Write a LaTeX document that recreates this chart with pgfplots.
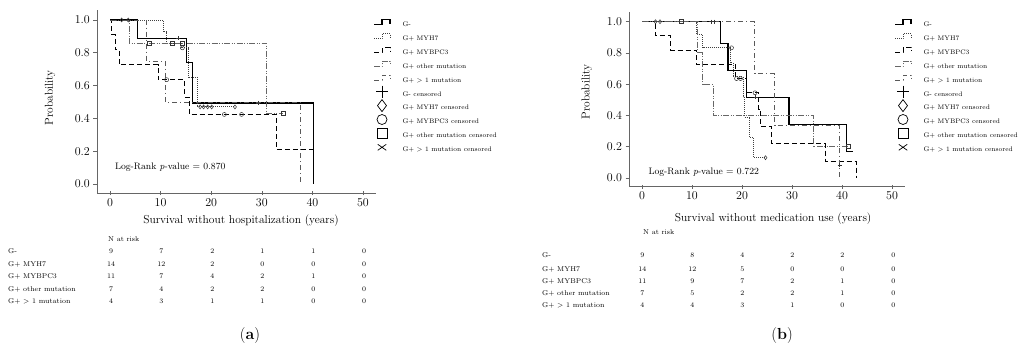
\documentclass[border=0pt]{standalone}
\usepackage{fontspec}
\usepackage{pgfplots}
\pgfplotsset{compat=1.18}
\definecolor{axgray}{gray}{0.4}
\pgfplotsset{
 kmaxis/.style={scale only axis, xmin=-2.5, xmax=52.5, ymin=-0.055, ymax=1.06,
   axis x line*=bottom, axis y line*=left,
   axis line style={axgray, line width=0.6pt, -},
   xtick={0,10,20,30,40,50}, ytick={0,0.2,0.4,0.6,0.8,1},
   major tick style={axgray, line width=0.6pt},
   xtick align=center, ytick align=outside, major tick length=4pt,
   yticklabel style={/pgf/number format/fixed,/pgf/number format/fixed zerofill,/pgf/number format/precision=1},
   ticklabel style={font=\fontsize{12}{14}\selectfont},
   label style={font=\fontsize{11.5}{14}\selectfont},
   legend style={draw=none, fill=none, inner sep=0pt, outer sep=0pt, row sep=-0.1pt, column sep=11.5pt,
     font=\fontsize{6.6}{8}\selectfont, nodes={inner sep=0pt, text depth=1pt}},
   legend cell align=left,
 },
 gneg/.style={black, line width=1.1pt},
 myh7/.style={black!75, line width=0.9pt, dash pattern=on 0.9pt off 1.1pt},
 mybpc3/.style={black, line width=0.9pt, dash pattern=on 5pt off 3pt},
 othm/.style={black!60, line width=0.9pt, dash pattern=on 6pt off 1.5pt on 1pt off 1.5pt on 1pt off 1.5pt},
 gtone/.style={black!65, line width=0.9pt, dash pattern=on 5pt off 3pt on 1pt off 3pt},
 cens/.style={only marks, black!80, mark size=2pt, mark options={solid, line width=0.5pt, fill=white}},
 kmline/.style={legend image code/.code={\path[draw=none,fill=none] (0pt,-4.5pt) rectangle (18pt,9.5pt);
   \draw[##1] (1pt,0pt) -- (9pt,0pt) -- (9pt,5pt) -- (17pt,5pt) -- (17pt,1pt);}},
 kmmark/.style={legend image code/.code={\path[draw=none,fill=none] (0pt,-4.5pt) rectangle (18pt,9.5pt);
   \draw[##1] plot coordinates {(9pt,2.5pt)};}},
}
\newcommand{\kmlegend}{%
 \addlegendimage{kmline, gneg}\addlegendentry{G-}
 \addlegendimage{kmline, myh7, line width=0.7pt}\addlegendentry{G+ MYH7}
 \addlegendimage{kmline, mybpc3, line width=0.7pt}\addlegendentry{G+ MYBPC3}
 \addlegendimage{kmline, othm, line width=0.7pt}\addlegendentry{G+ other mutation}
 \addlegendimage{kmline, gtone, line width=0.7pt}\addlegendentry{G+ > 1 mutation}
 \addlegendimage{kmmark, black, line width=0.7pt, mark=+, mark size=6pt}\addlegendentry{G- censored}
 \addlegendimage{kmmark, black, line width=0.7pt, mark=diamond, mark size=6pt}\addlegendentry{G+ MYH7 censored}
 \addlegendimage{kmmark, black, line width=0.7pt, mark=o, mark size=5pt}\addlegendentry{G+ MYBPC3 censored}
 \addlegendimage{kmmark, black, line width=0.7pt, mark=square, mark size=5pt}\addlegendentry{G+ other mutation censored}
 \addlegendimage{kmmark, black, line width=0.7pt, mark=x, mark size=6pt, mark options={yscale=0.7}}\addlegendentry{G+ > 1 mutation censored}
}
\begin{document}
\begin{tikzpicture}
\useasboundingbox (0,0) rectangle (1020pt,354pt);
% ---------------- panel (a) ----------------
\begin{axis}[kmaxis, at={(97.35pt,161pt)}, anchor=south west, width=278.3pt, height=182.86pt,
  xlabel={Survival without hospitalization (years)},
  xlabel style={at={(axis description cs:0.516,-0.153)}, anchor=center},
  ylabel={Probability},
  ylabel style={at={(axis description cs:-0.170,0.52)}, anchor=center},
  legend style={at={(axis description cs:0.9905,0.9723)}, anchor=north west}]
\addplot[gneg, forget plot] coordinates {(0,1)(5.4,1)(5.4,0.889)(15.2,0.889)(15.2,0.741)(16.3,0.741)(16.3,0.494)(40.3,0.494)(40.3,0)};
\addplot[myh7, forget plot] coordinates {(0,1)(10.5,1)(10.5,0.929)(11.2,0.929)(11.2,0.857)(14.1,0.857)(14.1,0.83)(15.6,0.83)(15.6,0.65)(17.2,0.65)(17.2,0.47)(24.7,0.47)};
\addplot[mybpc3, forget plot] coordinates {(0,1)(0.3,1)(0.3,0.909)(1.0,0.909)(1.0,0.818)(1.8,0.818)(1.8,0.727)(9.5,0.727)(9.5,0.636)(14.8,0.636)(14.8,0.53)(15.7,0.53)(15.7,0.424)(32.8,0.424)(32.8,0.212)(40.3,0.212)(40.3,0)};
\addplot[othm, forget plot] coordinates {(0,1)(3.8,1)(3.8,0.857)(31.0,0.857)(31.0,0.429)(34.2,0.429)};
\addplot[gtone, forget plot] coordinates {(0,1)(7.2,1)(7.2,0.75)(10.9,0.75)(10.9,0.5)(37.7,0.5)(37.7,0)};
\addplot[cens, mark=+, forget plot] coordinates {(13.5,0.889)(29.3,0.494)};
\addplot[cens, mark=diamond, forget plot] coordinates {(2.3,1)(3.6,1)(17.8,0.47)(18.5,0.47)(19.3,0.47)(20.1,0.47)(24.7,0.47)};
\addplot[cens, mark=o, forget plot] coordinates {(11.2,0.636)(14.3,0.83)(22.6,0.424)(26.0,0.424)};
\addplot[cens, mark=square, forget plot] coordinates {(7.8,0.857)(12.4,0.857)(14.3,0.857)(34.2,0.429)};
\node[anchor=west, font=\fontsize{9.4}{11}\selectfont] at (axis cs:0.3,0.1) {Log-Rank \textit{p}-value = 0.870};
\kmlegend
\end{axis}
% ---------------- panel (b) ----------------
\begin{axis}[kmaxis, at={(629.5pt,167.4pt)}, anchor=south west, width=275pt, height=174.3pt,
  xlabel={Survival without medication use (years)},
  xlabel style={at={(axis description cs:0.522,-0.186)}, anchor=center},
  ylabel={Probability},
  ylabel style={at={(axis description cs:-0.155,0.543)}, anchor=center},
  legend style={at={(axis description cs:0.9618,0.9834)}, anchor=north west}]
\addplot[gneg, forget plot] coordinates {(0,1)(15.7,1)(15.7,0.862)(17.2,0.862)(17.2,0.687)(20.9,0.687)(20.9,0.515)(29.4,0.515)(29.4,0.345)(40.9,0.345)(40.9,0.172)(42.2,0.172)};
\addplot[myh7, forget plot] coordinates {(0,1)(10.9,1)(10.9,0.917)(12.1,0.917)(12.1,0.833)(17.6,0.833)(17.6,0.74)(18.2,0.74)(18.2,0.65)(20.2,0.65)(20.2,0.52)(20.5,0.52)(20.5,0.39)(21.5,0.39)(21.5,0.26)(22.3,0.26)(22.3,0.13)(24.7,0.13)};
\addplot[mybpc3, forget plot] coordinates {(0,1)(2.7,1)(2.7,0.909)(5.7,0.909)(5.7,0.818)(10.9,0.818)(10.9,0.727)(18.7,0.727)(18.7,0.636)(20.9,0.636)(20.9,0.545)(23.3,0.545)(23.3,0.436)(23.7,0.436)(23.7,0.327)(25.9,0.327)(25.9,0.218)(36.6,0.218)(36.6,0.109)(42.8,0.109)(42.8,0)};
\addplot[othm, forget plot] coordinates {(0,1)(11.0,1)(11.0,0.8)(12.1,0.8)(12.1,0.6)(14.2,0.6)(14.2,0.4)(34.2,0.4)(34.2,0.2)(41.2,0.2)};
\addplot[gtone, forget plot] coordinates {(0,1)(22.5,1)(22.5,0.667)(26.5,0.667)(26.5,0.333)(39.5,0.333)(39.5,0)};
\addplot[cens, mark=+, forget plot] coordinates {(13.8,1)(14.4,1)(22.7,0.515)(39.5,0.08)};
\addplot[cens, mark=diamond, forget plot] coordinates {(2.7,1)(3.6,1)(24.7,0.13)};
\addplot[cens, mark=o, forget plot] coordinates {(17.9,0.833)(18.9,0.636)(19.7,0.636)(22.6,0.545)};
\addplot[cens, mark=square, forget plot] coordinates {(7.8,1)(41.2,0.2)};
\node[anchor=west, font=\fontsize{9.4}{11}\selectfont] at (axis cs:0.6,0.04) {Log-Rank \textit{p}-value = 0.722};
\kmlegend
\end{axis}
% ---------------- risk tables ----------------
\begin{scope}[every node/.style={font=\fontsize{7}{8}\selectfont, inner sep=0pt}]
\node[anchor=mid west] at (108pt,115pt) {N at risk};
\foreach \lab/\yy/\a/\b/\c/\d/\e/\f in {G-/103/9/7/2/1/1/0, G+ MYH7/90/14/12/2/0/0/0, G+ MYBPC3/78/11/7/4/2/1/0, G+ other mutation/65/7/4/2/2/0/0, G+ > 1 mutation/53/4/3/1/1/0/0}{
  \node[anchor=mid west] at (8pt,\yy pt) {\lab};
  \node[anchor=mid] at (111pt,\yy pt) {\a};
  \node[anchor=mid] at (161.3pt,\yy pt) {\b};
  \node[anchor=mid] at (212.3pt,\yy pt) {\c};
  \node[anchor=mid] at (262.3pt,\yy pt) {\d};
  \node[anchor=mid] at (313.3pt,\yy pt) {\e};
  \node[anchor=mid] at (364pt,\yy pt) {\f};
}
\node[anchor=mid west] at (643pt,122pt) {N at risk};
\foreach \lab/\yy/\a/\b/\c/\d/\e/\f in {G-/98.3/9/8/4/2/2/0, G+ MYH7/85/14/12/5/0/0/0, G+ MYBPC3/72.3/11/9/7/2/1/0, G+ other mutation/60.7/7/5/2/2/1/0, G+ > 1 mutation/48.3/4/4/3/1/0/0}{
  \node[anchor=mid west] at (542pt,\yy pt) {\lab};
  \node[anchor=mid] at (642.3pt,\yy pt) {\a};
  \node[anchor=mid] at (692.3pt,\yy pt) {\b};
  \node[anchor=mid] at (742.3pt,\yy pt) {\c};
  \node[anchor=mid] at (792.3pt,\yy pt) {\d};
  \node[anchor=mid] at (842.3pt,\yy pt) {\e};
  \node[anchor=mid] at (893.3pt,\yy pt) {\f};
}
\end{scope}
\node[font=\fontsize{16}{18}\selectfont] at (250pt,18pt) {(\textbf{a})};
\node[font=\fontsize{16}{18}\selectfont] at (782pt,18pt) {(\textbf{b})};
\end{tikzpicture}
\end{document}
